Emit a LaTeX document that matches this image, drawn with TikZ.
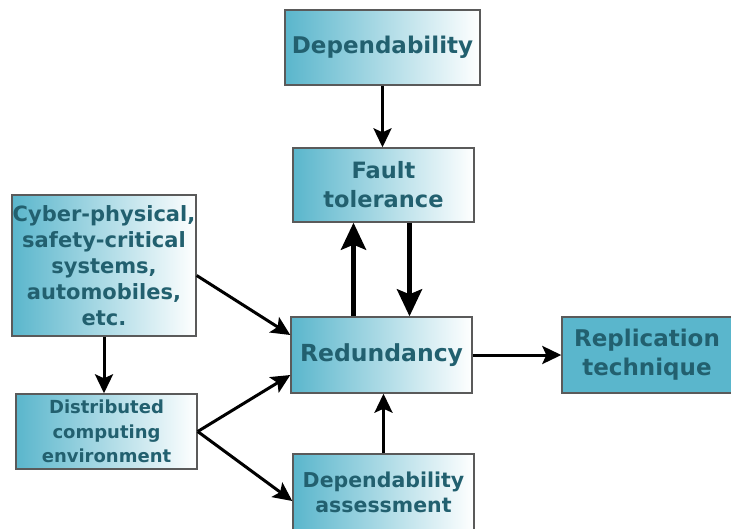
\documentclass[tikz,border=0pt]{standalone}
\usepackage{fontspec}
\setmainfont{DejaVu Sans}
\usetikzlibrary{arrows.meta}
\definecolor{dep-teal}{HTML}{5AB6CC}
\definecolor{dep-text}{HTML}{22606F}
\definecolor{dep-edge}{HTML}{5A5A5A}

\begin{document}
\begin{tikzpicture}[x=1pt, y=-1pt,
    blk/.style={draw=dep-edge, line width=1.4pt, left color=dep-teal, right color=white,
                inner sep=0pt, align=center, text=dep-text, font=\bfseries},
    arr/.style={-{Stealth[length=19pt, width=18pt, inset=4pt]}, line width=3pt},
    thick arr/.style={-{Stealth[length=27pt, width=25pt, inset=5pt]}, line width=4.8pt},
]
    \useasboundingbox (0,0) rectangle (731,528);

    \node[blk, minimum width=195pt, minimum height=75pt, font=\bfseries\fontsize{23}{26}\selectfont] (dep) at (382.5,47.5) {Dependability};
    \node[blk, minimum width=181pt, minimum height=74pt, font=\bfseries\fontsize{22.5}{29}\selectfont] (ft) at (383.5,185) {Fault\\tolerance};
    \node[blk, minimum width=184pt, minimum height=141pt, font=\bfseries\fontsize{21}{26}\selectfont] (cps) at (104,265.5) {Cyber-physical,\\safety-critical\\systems,\\automobiles,\\etc.};
    \node[blk, minimum width=181pt, minimum height=75pt, font=\bfseries\fontsize{18}{24.5}\selectfont] (dce) at (106.5,431.5) {Distributed\\computing\\environment};
    \node[blk, minimum width=181pt, minimum height=76pt, font=\bfseries\fontsize{23.5}{26}\selectfont] (red) at (381.5,355) {Redundancy};
    \node[blk, left color=dep-teal, right color=dep-teal, minimum width=170pt, minimum height=76pt,
          font=\bfseries\fontsize{23}{29}\selectfont] (rep) at (647,355) {Replication\\technique};
    \node[blk, minimum width=181pt, minimum height=76pt, font=\bfseries\fontsize{20.5}{25}\selectfont] (da) at (383.5,492) {Dependability\\assessment};

    \draw[arr] (dep.south) -- (dep.south |- ft.north);
    \draw[thick arr] ([xshift=-28pt]red.north) -- ([xshift=-28pt]red.north |- ft.south);
    \draw[thick arr] ([xshift=28pt]red.north |- ft.south) -- ([xshift=28pt]red.north);
    \draw[arr] ([yshift=-10pt]cps.east) -- ([yshift=20pt]red.west);
    \draw[arr] (cps.south) -- (cps.south |- dce.north);
    \draw[arr] (dce.east) -- ([yshift=-20pt]red.west);
    \draw[arr] (dce.east) -- ([yshift=-9pt]da.west);
    \draw[arr] (da.north) -- (da.north |- red.south);
    \draw[arr] (red) -- (rep);
\end{tikzpicture}
\end{document}
